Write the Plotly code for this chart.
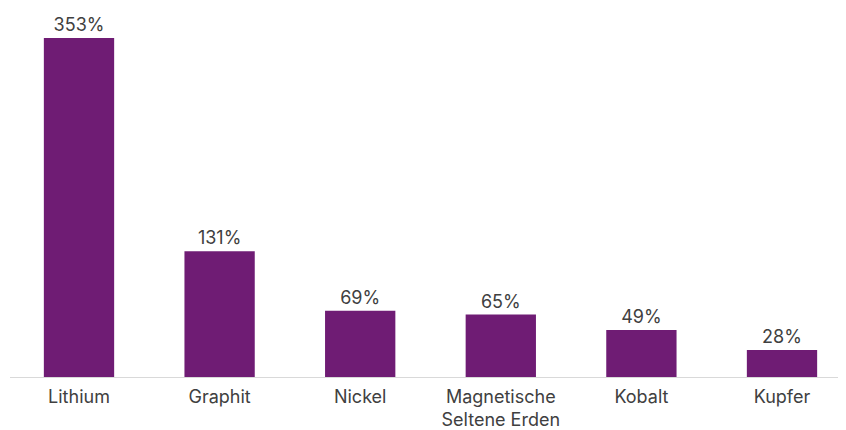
import plotly.graph_objects as go

categories = ["Lithium", "Graphit", "Nickel", "Magnetische<br>Seltene Erden", "Kobalt", "Kupfer"]
values = [353, 131, 69, 65, 49, 28]
labels = [f"{v}%" for v in values]

# page body has an 8px margin, so figure coordinates are screen minus 8
W, H = 838, 422
L, T = 2, 2
base_y = 369
px_per = 0.9603
x0_px, x5_px = 71, 774
s = (x5_px - x0_px) / 5
r0 = -(x0_px - L) / s
r1 = r0 + (W - L) / s

fig = go.Figure(go.Bar(
    x=list(range(len(categories))), y=values,
    marker=dict(color="#6f1c74", line=dict(width=0)),
    width=0.5,
    text=labels, textposition="outside", cliponaxis=False,
    textfont=dict(family="Inter", size=18, color="#404040"),
))
fig.update_layout(
    width=W, height=H,
    margin=dict(l=L, r=0, t=T, b=H - base_y, autoexpand=False),
    paper_bgcolor="white", plot_bgcolor="white",
    showlegend=False,
    font=dict(family="Inter", size=18, color="#404040"),
    xaxis=dict(range=[r0, r1], tickmode="array", tickvals=list(range(len(categories))),
               ticktext=categories, showgrid=False, zeroline=False, automargin=False,
               showline=True, linecolor="#d9d9d9", linewidth=1,
               ticks="outside", ticklen=3, tickcolor="rgba(0,0,0,0)",
               tickfont=dict(family="Inter", size=18, color="#404040")),
    yaxis=dict(range=[0, (base_y - T) / px_per], visible=False, automargin=False),
)
fig.write_html("out.html")
